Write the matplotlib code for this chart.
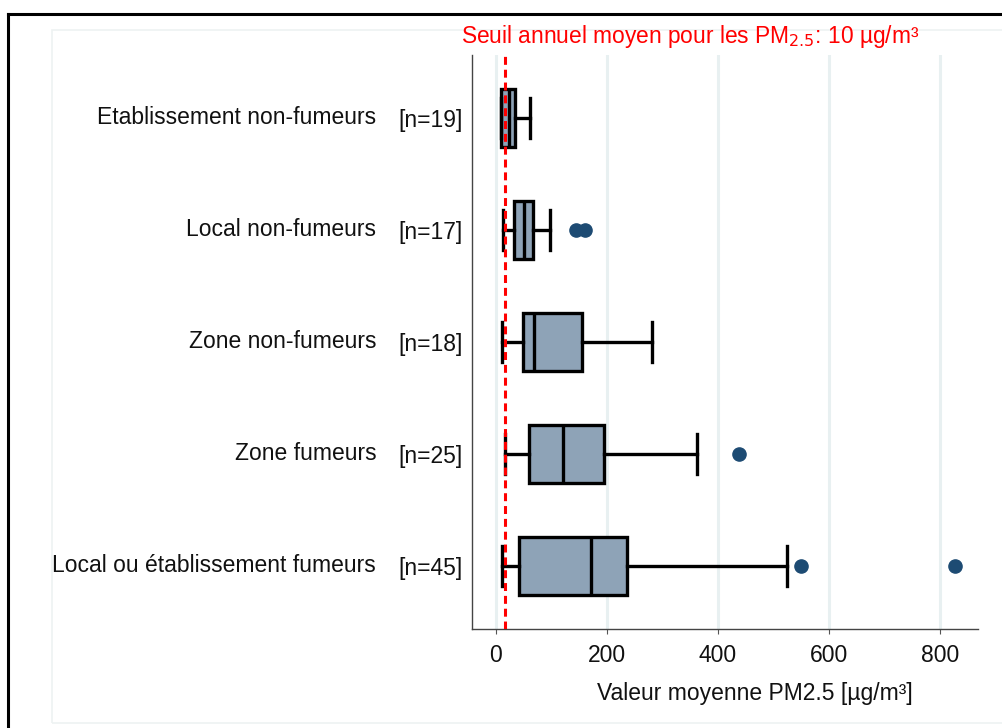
import matplotlib
matplotlib.use('Agg')
import matplotlib.pyplot as plt
from matplotlib.lines import Line2D
from matplotlib.patches import Rectangle

plt.rcParams['font.family'] = ['Liberation Sans', 'DejaVu Sans']

# categories, top to bottom
categories = ['Etablissement non-fumeurs', 'Local non-fumeurs', 'Zone non-fumeurs',
              'Zone fumeurs', 'Local ou établissement fumeurs']
counts = [19, 17, 18, 25, 45]

# box statistics (µg/m³)
whis_low = [10, 13, 11, 17, 11]
q1 = [10, 32, 49, 60, 41]
medians = [23, 50, 69, 121, 171]
q3 = [35, 67, 155, 195, 237]
whis_high = [61, 97, 281, 362, 524]
outliers = [[], [145, 160], [], [438], [550, 828]]

threshold = 17
xticks = [0, 200, 400, 600, 800]

box_color = '#8EA3B7'
flier_color = '#1D4B73'

fig = plt.figure(figsize=(10.02, 7.28), dpi=100)
ax = fig.add_axes([0.4711, 0.136, 0.505, 0.7885])

# figure frame: black top/left border and faint inner frame
fig.add_artist(Line2D([8/1002, 1.0], [1 - 14/728, 1 - 14/728], color='black', lw=2.2,
                      transform=fig.transFigure))
fig.add_artist(Line2D([8/1002, 8/1002], [0, 1 - 14/728], color='black', lw=2.2,
                      transform=fig.transFigure))
fig.add_artist(Rectangle((52/1002, 1 - 723/728), 1.0, (723 - 30)/728, fill=False,
                         edgecolor='#EEF2F2', lw=1.2, transform=fig.transFigure))

stats = []
for i in range(len(categories)):
    stats.append({'whislo': whis_low[i], 'q1': q1[i], 'med': medians[i], 'q3': q3[i],
                  'whishi': whis_high[i], 'fliers': outliers[i]})

positions = list(range(1, len(categories) + 1))
ax.bxp(stats, positions=positions, vert=False, widths=0.52, capwidths=0.35,
       patch_artist=True, showfliers=True,
       boxprops=dict(facecolor=box_color, edgecolor='black', linewidth=2.4),
       medianprops=dict(color='black', linewidth=2.4),
       whiskerprops=dict(color='black', linewidth=2.4),
       capprops=dict(color='black', linewidth=2.4),
       flierprops=dict(marker='o', markerfacecolor=flier_color, markeredgecolor=flier_color,
                       markersize=9.5))

ax.axvline(threshold, color='#FF0000', lw=2.2, linestyle=(0, (2.6, 1.6)), zorder=10)

ax.set_xlim(-43, 869)
ax.set_ylim(5.5625, 0.4375)
ax.set_xticks(xticks)
for xv in xticks:
    ax.axvline(xv, color='#E8F0F1', lw=2.2, zorder=0)

ax.set_yticks(positions)
ax.set_yticklabels(['[n=%d]' % n for n in counts], fontsize=16.5, color='#111111')
ax.tick_params(axis='y', length=0, pad=6.5)
ax.tick_params(axis='x', length=3.6, color='#555555', labelsize=16.5, pad=7,
               labelcolor='#111111')

for pos, name in zip(positions, categories):
    ax.annotate(name, xy=(0, pos), xycoords=ax.get_yaxis_transform(),
                xytext=(-69, 0), textcoords='offset points', ha='right', va='center',
                fontsize=16.5, color='#111111')

for side in ['top', 'right']:
    ax.spines[side].set_visible(False)
for side in ['left', 'bottom']:
    ax.spines[side].set_color('#444444')
    ax.spines[side].set_linewidth(1.0)

ax.set_xlabel('Valeur moyenne PM2.5 [µg/m³]', fontsize=16.5, color='#111111')
ax.xaxis.set_label_coords(0.559, -0.092)

fig.text(690/1002, 1 - 36/728, 'Seuil annuel moyen pour les PM$_{2.5}$: 10 µg/m³',
         color='#FF0000', fontsize=16.4, ha='center', va='center')

fig.savefig('out.png', dpi=100)
